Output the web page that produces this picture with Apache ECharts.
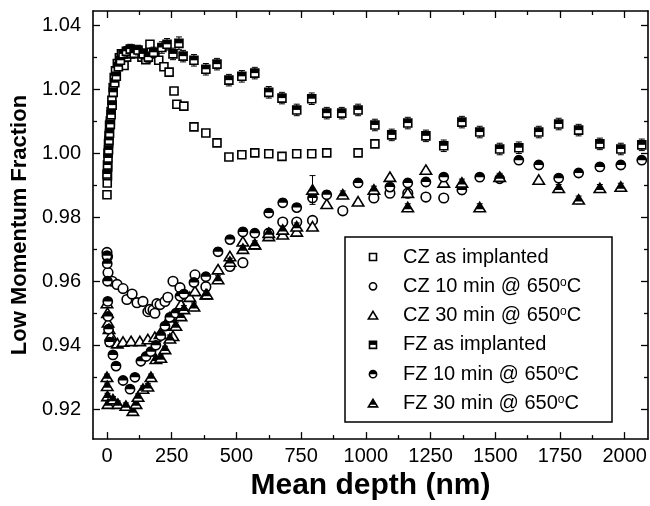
<!DOCTYPE html>
<html>
<head>
<meta charset="utf-8">
<script src="https://cdn.jsdelivr.net/npm/echarts@6/dist/echarts.min.js"></script>
<style>
  html, body { margin: 0; padding: 0; background: #fff; }
  #chart { width: 650px; height: 506px; }
</style>
</head>
<body>
<div id="chart"></div>
<script>
// tick values
const xMajor = [0, 250, 500, 750, 1000, 1250, 1500, 1750, 2000]
const xMinor = [125, 375, 625, 875, 1125, 1375, 1625, 1875]
const yMajor = [0.92, 0.94, 0.96, 0.98, 1.00, 1.02, 1.04]
const yMinor = [0.93, 0.95, 0.97, 0.99, 1.01, 1.03]

// CZ as implanted [depth, fraction]
const czImplanted = [
  [0, 0.9870], [1, 0.9907], [2, 0.9930], [3, 0.9957], [4, 1.0000], [6, 1.0030], [8, 1.0056],
  [10, 1.0087], [13, 1.0100], [16, 1.0130], [19, 1.0165], [24, 1.0205], [28, 1.0236], [33, 1.0257],
  [40, 1.0280], [48, 1.0298], [56, 1.0310], [66, 1.0274], [76, 1.0300], [90, 1.0310], [105, 1.0320],
  [120, 1.0312], [135, 1.0300], [150, 1.0292], [166, 1.0340], [185, 1.0310], [200, 1.0290],
  [220, 1.0270], [240, 1.0253], [259, 1.0194], [270, 1.0153], [297, 1.0147], [336, 1.0082],
  [382, 1.0063], [425, 1.0032], [471, 0.9988], [521, 0.9995], [571, 1.0001], [625, 0.9998],
  [676, 0.9990], [733, 0.9998], [791, 0.9998], [849, 1.0001], [970, 1.0001], [1035, 1.0029]
]

// CZ 10 min @ 650C
const cz10 = [
  [0, 0.9690], [2, 0.9677], [4, 0.9627], [20, 0.9600], [39, 0.9590], [62, 0.9577], [77, 0.9543],
  [97, 0.9560], [116, 0.9533], [139, 0.9537], [158, 0.9505], [166, 0.9512], [178, 0.9510],
  [185, 0.9500], [193, 0.9530], [205, 0.9527], [224, 0.9537], [235, 0.9550], [255, 0.9600],
  [282, 0.9580], [340, 0.9620], [382, 0.9583], [475, 0.9646], [525, 0.9658], [625, 0.9750],
  [679, 0.9785], [733, 0.9785], [794, 0.9790], [911, 0.9820], [1031, 0.9860], [1093, 0.9875],
  [1162, 0.9875], [1232, 0.9863], [1301, 0.9860]
]

// CZ 30 min @ 650C
const cz30 = [
  [0, 0.9530], [2, 0.9500], [4, 0.9470], [8, 0.9450], [15, 0.9430], [23, 0.9410], [40, 0.9405],
  [62, 0.9410], [93, 0.9412], [127, 0.9412], [158, 0.9418], [185, 0.9425], [205, 0.9434],
  [224, 0.9460], [243, 0.9487], [255, 0.9428], [286, 0.9527], [320, 0.9550], [340, 0.9568],
  [382, 0.9558], [429, 0.9636], [475, 0.9677], [525, 0.9723], [571, 0.9714], [625, 0.9740],
  [679, 0.9745], [733, 0.9754], [794, 0.9770], [849, 0.9840], [970, 0.9848], [1093, 0.9925],
  [1162, 0.9875], [1232, 0.9947], [1301, 0.9907], [1668, 0.9916]
]

// FZ as implanted [depth, fraction, error]
const fzImplanted = [
  [0, 0.9935, 0.0012], [2, 0.9963, 0.0012], [4, 0.9985, 0.0012], [6, 1.0010, 0.0012],
  [8, 1.0040, 0.0012], [10, 1.0062, 0.0012], [13, 1.0090, 0.0012], [16, 1.0120, 0.0012],
  [20, 1.0150, 0.0012], [24, 1.0190, 0.0012], [30, 1.0220, 0.0012], [36, 1.0240, 0.0013],
  [44, 1.0270, 0.0013], [52, 1.0290, 0.0013], [62, 1.0310, 0.0014], [75, 1.0318, 0.0015],
  [90, 1.0325, 0.0015], [105, 1.0312, 0.0015], [120, 1.0322, 0.0015], [140, 1.0310, 0.0016],
  [160, 1.0300, 0.0016], [180, 1.0315, 0.0016], [212, 1.0330, 0.0018], [232, 1.0340, 0.0018],
  [255, 1.0310, 0.0018], [278, 1.0343, 0.0020], [294, 1.0303, 0.0018], [336, 1.0290, 0.0018],
  [382, 1.0262, 0.0018], [425, 1.0278, 0.0018], [471, 1.0228, 0.0018], [521, 1.0240, 0.0018],
  [571, 1.0250, 0.0018], [625, 1.0190, 0.0018], [676, 1.0172, 0.0018], [733, 1.0135, 0.0018],
  [791, 1.0170, 0.0018], [849, 1.0125, 0.0018], [907, 1.0125, 0.0018], [970, 1.0135, 0.0018],
  [1035, 1.0088, 0.0018], [1100, 1.0057, 0.0018], [1162, 1.0094, 0.0018], [1232, 1.0054, 0.0018],
  [1301, 1.0023, 0.0018], [1371, 1.0097, 0.0018], [1440, 1.0066, 0.0018], [1517, 1.0013, 0.0018],
  [1591, 1.0017, 0.0018], [1668, 1.0066, 0.0018], [1745, 1.0091, 0.0018], [1822, 1.0072, 0.0018],
  [1904, 1.0029, 0.0018], [1985, 1.0013, 0.0018], [2066, 1.0026, 0.0018]
]

// FZ 10 min @ 650C
const fz10 = [
  [0, 0.9680, 0.0010], [1, 0.9655, 0.0010], [2, 0.9600, 0.0010], [3, 0.9537, 0.0010],
  [4, 0.9490, 0.0010], [6, 0.9450, 0.0010], [10, 0.9410, 0.0010], [23, 0.9370, 0.0010],
  [35, 0.9335, 0.0010], [62, 0.9290, 0.0010], [89, 0.9263, 0.0010], [108, 0.9300, 0.0010],
  [131, 0.9350, 0.0010], [151, 0.9365, 0.0010], [170, 0.9380, 0.0010], [189, 0.9400, 0.0010],
  [208, 0.9430, 0.0010], [224, 0.9460, 0.0010], [243, 0.9487, 0.0012], [266, 0.9500, 0.0012],
  [282, 0.9553, 0.0012], [297, 0.9560, 0.0012], [336, 0.9596, 0.0012], [382, 0.9614, 0.0012],
  [429, 0.9692, 0.0012], [475, 0.9730, 0.0012], [525, 0.9754, 0.0012], [571, 0.9750, 0.0012],
  [625, 0.9813, 0.0012], [679, 0.9845, 0.0012], [733, 0.9830, 0.0012], [794, 0.9860, 0.0012],
  [849, 0.9870, 0.0012], [970, 0.9907, 0.0012], [1093, 0.9894, 0.0012], [1162, 0.9907, 0.0012],
  [1232, 0.9910, 0.0012], [1301, 0.9925, 0.0012], [1371, 0.9885, 0.0012], [1440, 0.9925, 0.0012],
  [1517, 0.9920, 0.0012], [1591, 0.9978, 0.0012], [1668, 0.9963, 0.0012], [1745, 0.9922, 0.0012],
  [1822, 0.9938, 0.0012], [1904, 0.9957, 0.0012], [1985, 0.9963, 0.0012], [2066, 0.9978, 0.0012]
]

// FZ 30 min @ 650C
const fz30 = [
  [0, 0.9300, 0.0010], [1, 0.9272, 0.0010], [2, 0.9240, 0.0010], [4, 0.9216, 0.0010],
  [23, 0.9230, 0.0010], [42, 0.9216, 0.0010], [73, 0.9210, 0.0010], [100, 0.9194, 0.0010],
  [112, 0.9216, 0.0010], [120, 0.9238, 0.0010], [139, 0.9263, 0.0010], [158, 0.9270, 0.0010],
  [170, 0.9300, 0.0010], [189, 0.9356, 0.0010], [208, 0.9360, 0.0010], [224, 0.9387, 0.0010],
  [243, 0.9420, 0.0012], [266, 0.9460, 0.0012], [286, 0.9490, 0.0012], [297, 0.9512, 0.0012],
  [336, 0.9520, 0.0012], [386, 0.9558, 0.0012], [429, 0.9605, 0.0012], [475, 0.9660, 0.0012],
  [525, 0.9700, 0.0012], [571, 0.9714, 0.0012], [625, 0.9750, 0.0012], [679, 0.9760, 0.0012],
  [733, 0.9770, 0.0012], [794, 0.9885, 0.0045], [911, 0.9870, 0.0012], [1031, 0.9885, 0.0012],
  [1162, 0.9830, 0.0012], [1371, 0.9907, 0.0012], [1440, 0.9830, 0.0012], [1517, 0.9925, 0.0012],
  [1745, 0.9890, 0.0012], [1822, 0.9854, 0.0012], [1904, 0.9890, 0.0012], [1985, 0.9894, 0.0012]
]

const FONT = '"Liberation Sans", Arial, Helvetica, sans-serif'
const INK = '#000'
const LW = 1.6

// ---- marker shapes ----
const squareOpen = (cx, cy, h) => [
  { type: 'rect', shape: { x: cx - h, y: cy - h, width: 2 * h, height: 2 * h }, style: { fill: '#fff', stroke: INK, lineWidth: LW } },
]
const squareHalf = (cx, cy, h) => [
  { type: 'rect', shape: { x: cx - h, y: cy - h, width: 2 * h, height: 2 * h }, style: { fill: '#fff', stroke: INK, lineWidth: LW } },
  { type: 'rect', shape: { x: cx - h, y: cy - h, width: 2 * h, height: h }, style: { fill: INK } },
]
const circleOpen = (cx, cy, r) => [
  { type: 'circle', shape: { cx, cy, r }, style: { fill: '#fff', stroke: INK, lineWidth: LW } },
]
const circleHalf = (cx, cy, r) => [
  { type: 'circle', shape: { cx, cy, r }, style: { fill: '#fff', stroke: INK, lineWidth: LW } },
  { type: 'sector', shape: { cx, cy, r0: 0, r, startAngle: Math.PI, endAngle: 2 * Math.PI }, style: { fill: INK } },
]
const triPts = (cx, cy, h) => [[cx, cy - h], [cx + h * 1.1, cy + h * 0.8], [cx - h * 1.1, cy + h * 0.8]]
const triOpen = (cx, cy, h) => [
  { type: 'polygon', shape: { points: triPts(cx, cy, h) }, style: { fill: '#fff', stroke: INK, lineWidth: LW, lineJoin: 'miter' } },
]
const triHalf = (cx, cy, h) => {
  const yc = cy + h * 0.3
  const k = (yc - (cy - h)) / (1.8 * h)
  return [
    { type: 'polygon', shape: { points: triPts(cx, cy, h) }, style: { fill: '#fff', stroke: INK, lineWidth: LW } },
    { type: 'polygon', shape: { points: [[cx, cy - h], [cx + h * 1.1 * k, yc], [cx - h * 1.1 * k, yc]] }, style: { fill: INK } },
  ]
}

// error bar with caps
const errorBar = (api, x, y, e) => {
  const t = api.coord([x, y + e])
  const b = api.coord([x, y - e])
  const st = { stroke: INK, lineWidth: 1 }
  return [
    { type: 'line', shape: { x1: t[0], y1: t[1], x2: b[0], y2: b[1] }, style: st },
    { type: 'line', shape: { x1: t[0] - 3, y1: t[1], x2: t[0] + 3, y2: t[1] }, style: st },
    { type: 'line', shape: { x1: b[0] - 3, y1: b[1], x2: b[0] + 3, y2: b[1] }, style: st },
  ]
}

const makeSeries = (name, data, marker, size, withErr) => ({
  name,
  type: 'custom',
  xAxisIndex: 0,
  yAxisIndex: 0,
  data,
  encode: { x: 0, y: 1 },
  clip: true,
  renderItem: (params, api) => {
    const x = api.value(0)
    const y = api.value(1)
    const p = api.coord([x, y])
    let children = []
    if (withErr) children = children.concat(errorBar(api, x, y, api.value(2)))
    children = children.concat(marker(p[0], p[1], size))
    return { type: 'group', children }
  },
})

// ---- axes ----
const xAxisDef = (position, ticks, len, main, labels) => ({
  type: 'value',
  position,
  min: -54,
  max: 2090,
  axisLine: { show: main, onZero: false, lineStyle: { color: INK, width: 1.6 } },
  axisTick: { show: true, inside: true, length: len, customValues: ticks, lineStyle: { color: INK, width: 1.3 } },
  axisLabel: labels
    ? { show: true, customValues: ticks, margin: 7, color: INK, fontSize: 20, fontFamily: FONT, formatter: (v) => String(v) }
    : { show: false },
  splitLine: { show: false },
})
const yAxisDef = (position, ticks, len, main, labels) => ({
  type: 'value',
  position,
  min: 0.9107,
  max: 1.0444,
  axisLine: { show: main, onZero: false, lineStyle: { color: INK, width: 1.6 } },
  axisTick: { show: true, inside: true, length: len, customValues: ticks, lineStyle: { color: INK, width: 1.3 } },
  axisLabel: labels
    ? { show: true, customValues: ticks, margin: 12, color: INK, fontSize: 20, fontFamily: FONT, formatter: (v) => v.toFixed(2) }
    : { show: false },
  splitLine: { show: false },
})

const xAxes = [
  Object.assign(xAxisDef('bottom', xMajor, 7, true, true), {
    name: 'Mean depth (nm)',
    nameLocation: 'middle',
    nameGap: 30,
    nameTextStyle: { fontSize: 30, fontWeight: 'bold', color: INK, fontFamily: FONT },
  }),
  xAxisDef('bottom', xMinor, 4, false, false),
  xAxisDef('top', xMajor, 7, true, false),
  xAxisDef('top', xMinor, 4, false, false),
]
const yAxes = [
  Object.assign(yAxisDef('left', yMajor, 7, true, true), {
    name: 'Low Momentum Fraction',
    nameLocation: 'middle',
    nameGap: 58,
    nameTextStyle: { fontSize: 22, fontWeight: 'bold', color: INK, fontFamily: FONT },
  }),
  yAxisDef('left', yMinor, 4, false, false),
  yAxisDef('right', yMajor, 7, true, false),
  yAxisDef('right', yMinor, 4, false, false),
]

// ---- legend (drawn as graphic) ----
const legendItems = [
  { label: 'CZ as implanted', icon: squareOpen, size: 3.5 },
  { label: 'CZ 10 min @ 650{sup|o}C', icon: circleOpen, size: 3.6 },
  { label: 'CZ 30 min @ 650{sup|o}C', icon: triOpen, size: 4.2 },
  { label: 'FZ as implanted', icon: squareHalf, size: 3.5 },
  { label: 'FZ 10 min @ 650{sup|o}C', icon: circleHalf, size: 3.6 },
  { label: 'FZ 30 min @ 650{sup|o}C', icon: triHalf, size: 4.2 },
]
const legendGraphic = [
  { type: 'rect', shape: { x: 345, y: 237, width: 267, height: 185 }, style: { fill: '#fff', stroke: INK, lineWidth: 1.5 }, z: 10 },
]
legendItems.forEach((it, i) => {
  const cy = 257 + i * 29.3
  it.icon(373, cy, it.size).forEach((el) => legendGraphic.push(Object.assign(el, { z: 11 })))
  legendGraphic.push({
    type: 'text',
    z: 11,
    x: 403,
    y: cy,
    style: {
      text: it.label,
      fill: INK,
      fontSize: 20,
      fontFamily: FONT,
      verticalAlign: 'middle',
      rich: { sup: { fontSize: 12, fontFamily: FONT, verticalAlign: 'top', fill: INK } },
    },
  })
})

const chart = echarts.init(document.getElementById('chart'), null, { renderer: 'canvas' })
chart.setOption({
  animation: false,
  backgroundColor: '#fff',
  grid: { left: 93, right: 2, top: 11, bottom: 66, containLabel: false },
  xAxis: xAxes,
  yAxis: yAxes,
  graphic: { elements: legendGraphic },
  series: [
    makeSeries('CZ as implanted', czImplanted, squareOpen, 4, false),
    makeSeries('CZ 10 min @ 650°C', cz10, circleOpen, 4.8, false),
    makeSeries('CZ 30 min @ 650°C', cz30, triOpen, 5.2, false),
    makeSeries('FZ as implanted', fzImplanted, squareHalf, 4, true),
    makeSeries('FZ 10 min @ 650°C', fz10, circleHalf, 4.6, true),
    makeSeries('FZ 30 min @ 650°C', fz30, triHalf, 5.2, true),
  ],
})
</script>
</body>
</html>
